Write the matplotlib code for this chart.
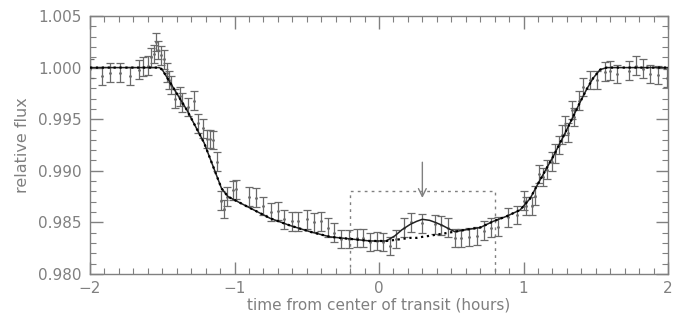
import matplotlib
matplotlib.use("Agg")
import matplotlib.pyplot as plt
from matplotlib.ticker import MultipleLocator

# ---- data ----
obs_t = [-2.00, -1.92, -1.86, -1.79, -1.72, -1.66, -1.63, -1.60, -1.58, -1.56,
         -1.54, -1.53, -1.51, -1.49, -1.47, -1.45, -1.44, -1.41, -1.38, -1.36,
         -1.32, -1.28, -1.25, -1.22, -1.19, -1.17, -1.15, -1.12, -1.09, -1.07,
         -1.05, -1.01, -0.99, -0.90, -0.85, -0.80, -0.75, -0.70, -0.66, -0.60,
         -0.56, -0.50, -0.45, -0.40, -0.355, -0.31, -0.26, -0.21, -0.155, -0.11,
         -0.06, -0.015, 0.03, 0.076, 0.118, 0.173, 0.22, 0.30, 0.39, 0.43,
         0.48, 0.525, 0.57, 0.625, 0.676, 0.727, 0.773, 0.826, 0.89, 0.953,
         1.00, 1.02, 1.057, 1.08, 1.11, 1.137, 1.16, 1.195, 1.218, 1.248,
         1.264, 1.287, 1.306, 1.334, 1.35, 1.386, 1.41, 1.46, 1.507, 1.564,
         1.60, 1.645, 1.73, 1.78, 1.825, 1.875, 1.93, 1.99]
obs_f = [0.9999, 0.9992, 0.9995, 0.9995, 0.9992, 0.9998, 1.0001, 1.0002, 1.0010, 1.0013,
         1.0025, 1.0017, 1.0012, 1.0008, 0.9995, 0.9988, 0.9983, 0.9970, 0.9972, 0.9966,
         0.9962, 0.9968, 0.9946, 0.9941, 0.9931, 0.9931, 0.9930, 0.9909, 0.9871, 0.9863,
         0.9875, 0.9881, 0.9882, 0.9875, 0.9874, 0.9866, 0.9860, 0.9861, 0.9853, 0.9851,
         0.9851, 0.9853, 0.9850, 0.9851, 0.9845, 0.9840, 0.9834, 0.9834, 0.9835, 0.9835,
         0.9831, 0.9832, 0.9831, 0.9827, 0.9834, 0.9845, 0.9850, 0.9849, 0.9848, 0.9847,
         0.9845, 0.9835, 0.9835, 0.9836, 0.9837, 0.9842, 0.9845, 0.9846, 0.9855, 0.9857,
         0.9871, 0.9866, 0.9866, 0.9876, 0.9897, 0.9894, 0.9901, 0.9909, 0.9917, 0.9925,
         0.9935, 0.9944, 0.9937, 0.9959, 0.9952, 0.9968, 0.9981, 0.9988, 0.9988, 0.9996,
         0.9997, 0.9994, 0.9997, 1.0002, 0.9999, 0.9994, 0.9993, 0.9990]
obs_err = 0.0009

model_t = [-2.0, -1.52, -1.50, -1.33, -1.21, -1.09, -1.045, -0.976, -0.893, -0.754,
           -0.616, -0.478, -0.339, -0.20, -0.062, 0.05, 0.11, 0.16, 0.215, 0.26,
           0.30, 0.35, 0.39, 0.44, 0.48, 0.525, 0.607, 0.70, 0.79, 0.884,
           0.976, 1.045, 1.114, 1.206, 1.30, 1.39, 1.437, 1.483, 1.53, 1.576, 2.0]
model_spot = [1.000, 1.000, 0.9998, 0.9959, 0.9927, 0.9883, 0.9875, 0.9870, 0.9864, 0.9854,
              0.9847, 0.9841, 0.9836, 0.9834, 0.9832, 0.9832, 0.9837, 0.9843, 0.9848, 0.9851,
              0.9853, 0.9852, 0.9850, 0.9847, 0.9844, 0.9841, 0.9843, 0.9845, 0.9851, 0.9856,
              0.9862, 0.9873, 0.9891, 0.9914, 0.9940, 0.9966, 0.9979, 0.9990, 0.9998, 1.0000, 1.000]
model_nospot = [1.000, 1.000, 0.9998, 0.9959, 0.9927, 0.9883, 0.9875, 0.9870, 0.9864, 0.9854,
                0.9847, 0.9841, 0.9836, 0.9834, 0.9832, 0.9832, 0.9833, 0.9834, 0.9835, 0.9835,
                0.9836, 0.9837, 0.9838, 0.9839, 0.9840, 0.9841, 0.9843, 0.9845, 0.9851, 0.9856,
                0.9862, 0.9873, 0.9891, 0.9914, 0.9940, 0.9966, 0.9979, 0.9990, 0.9998, 1.0000, 1.000]

box_t = [-0.2, 0.8]
box_top = 0.988
arrow_t = 0.30
arrow_from = 0.9911
arrow_to = 0.9871

x_ticks = [-2, -1, 0, 1, 2]
y_ticks = [0.980, 0.985, 0.990, 0.995, 1.000, 1.005]

# ---- figure ----
gray = "#808080"
plt.rcParams['font.family'] = ['DejaVu Sans']
fig = plt.figure(figsize=(6.78, 3.20), dpi=100)
ax = fig.add_axes([90/678, 1-274/320, 578/678, (274-16)/320])

ax.errorbar(obs_t, obs_f, yerr=obs_err, fmt='o', ms=1.0, color='#6a6a6a',
            ecolor='#6a6a6a', elinewidth=0.9, capsize=3, capthick=0.9, zorder=2)
ax.plot(model_t, model_spot, '-', color='#222222', lw=1.1, zorder=3)
ax.plot(model_t, model_nospot, ':', color='black', lw=1.6, zorder=4)

# dashed box
ax.plot([box_t[0], box_t[0], box_t[1], box_t[1]],
        [0.980, box_top, box_top, 0.980], linestyle=(0, (2, 3)), color=gray, lw=1.0, zorder=1)
# arrow
ax.annotate('', xy=(arrow_t, arrow_to), xytext=(arrow_t, arrow_from),
            arrowprops=dict(arrowstyle='->', color=gray, lw=1.0, mutation_scale=14))

ax.set_xlim(-2, 2)
ax.set_ylim(0.980, 1.005)
ax.set_xticks(x_ticks)
ax.set_xticklabels(['\u22122', '\u22121', '0', '1', '2'])
ax.set_yticks(y_ticks)
ax.set_yticklabels([f"{v:.3f}" for v in y_ticks])
ax.xaxis.set_minor_locator(MultipleLocator(0.1))
ax.yaxis.set_minor_locator(MultipleLocator(0.001))
ax.tick_params(which='both', direction='in', top=True, right=True, colors=gray,
               labelcolor=gray, labelsize=11)
ax.tick_params(which='major', length=9, width=1)
ax.tick_params(which='minor', length=4.5, width=0.8)
ax.tick_params(axis='y', pad=6)
ax.tick_params(axis='x', pad=5)
for s in ax.spines.values():
    s.set_color(gray)
    s.set_linewidth(1.0)

ax.set_xlabel('time from center of transit (hours)', color=gray, fontsize=11, labelpad=1)
ax.set_ylabel('relative flux', color=gray, fontsize=11.5, labelpad=6)

fig.savefig('out.png', dpi=100)
